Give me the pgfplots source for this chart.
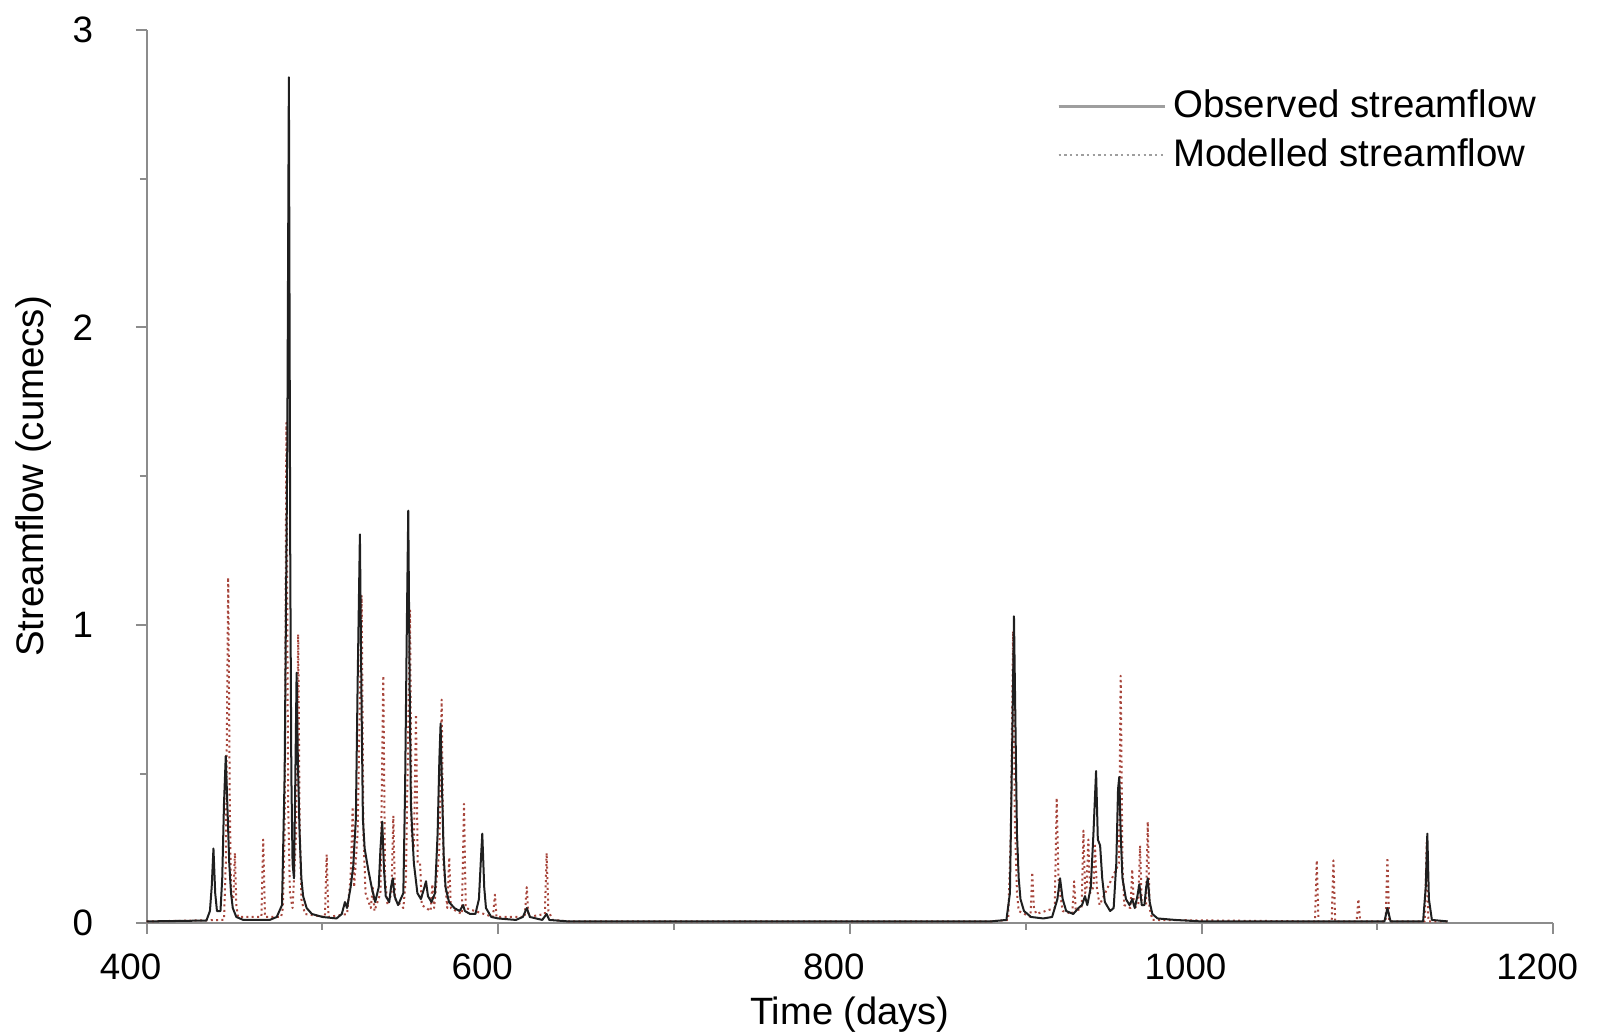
\documentclass[border=0pt]{standalone}
\usepackage{fontspec}
\setmainfont{Liberation Sans}
\usepackage{pgfplots}
\pgfplotsset{compat=1.18}
\definecolor{axgray}{gray}{0.55}
\definecolor{obs}{gray}{0.12}
\definecolor{modc}{rgb}{0.66,0.28,0.24}
\definecolor{leggray}{gray}{0.62}

\pgfplotstableread{
x y
400 0.005
434 0.008
436 0.04
437 0.12
438 0.25
439 0.10
440 0.04
442 0.04
443 0.15
444 0.40
445 0.56
446 0.38
447 0.20
448 0.10
449 0.05
451 0.02
455 0.01
470 0.01
474 0.02
477 0.06
478.5 0.5
480 1.6
480.9 2.84
481.7 1.2
482.3 0.5
483 0.2
483.8 0.15
484.5 0.45
485.3 0.84
486 0.55
487 0.3
488 0.15
489 0.09
491 0.05
494 0.03
500 0.02
508 0.015
511 0.03
512.8 0.07
514 0.05
516 0.12
517.5 0.19
519 0.35
520 0.8
521.3 1.305
522.3 0.7
523 0.35
524 0.25
526 0.18
528 0.12
530 0.07
532 0.12
533 0.25
534 0.34
535 0.18
536 0.09
538 0.07
539 0.12
540 0.15
541 0.09
543 0.06
546 0.1
547 0.45
548 1.0
548.8 1.385
549.6 0.8
550.3 0.4
551.1 0.30
552 0.2
554 0.1
556 0.08
558 0.12
558.9 0.14
560 0.09
562 0.07
564 0.1
565.5 0.3
566.5 0.55
567.2 0.67
568 0.45
569 0.22
570 0.12
572 0.07
575 0.05
578 0.04
580 0.06
581 0.04
584 0.03
587 0.03
589 0.08
590 0.2
590.9 0.30
592 0.12
593 0.05
596 0.02
600 0.015
610 0.01
614 0.02
616.2 0.05
618 0.02
625 0.01
627.5 0.03
629 0.01
640 0.005
880 0.005
889 0.01
891 0.1
892.3 0.6
893.3 1.03
894.3 0.6
895 0.3
896 0.15
897 0.08
899 0.04
903 0.02
910 0.015
915 0.02
918 0.08
919.5 0.15
921 0.08
923 0.04
927 0.03
930 0.05
932 0.06
933.7 0.09
935 0.06
937 0.12
938.5 0.3
940 0.51
941 0.28
942.3 0.26
943.5 0.15
945 0.07
948 0.04
950 0.05
951.5 0.2
952.5 0.45
953.2 0.49
954 0.3
955 0.15
957 0.08
959 0.06
960.6 0.08
962 0.05
963.5 0.09
964.6 0.13
966 0.06
967.5 0.06
968.5 0.12
969.4 0.15
970.5 0.07
972 0.03
975 0.015
985 0.01
1000 0.005
1104 0.005
1105.7 0.05
1107.5 0.005
1126 0.005
1127.5 0.12
1128.4 0.30
1129.3 0.08
1131 0.01
1140 0.005
}\obsdata

\pgfplotstableread{
x y
400 0.005
444 0.01
445 0.2
446.4 1.16
447.3 0.4
448 0.1
449.3 0.08
450.2 0.235
451 0.06
452 0.02
465.3 0.02
466.3 0.28
467.3 0.02
476.5 0.02
477.5 0.05
478.5 0.3
479.5 1.68
480.5 0.4
481.5 0.1
483 0.05
485 0.3
486.2 0.97
487 0.35
488 0.08
490 0.03
501.4 0.02
502.4 0.23
503.4 0.02
514 0.03
516 0.15
517.2 0.39
518 0.12
520 0.3
522.3 1.10
523.3 0.3
524.5 0.1
527.5 0.05
528.6 0.12
529.6 0.04
533 0.1
534.6 0.83
535.6 0.15
537 0.06
539.3 0.1
540.3 0.36
541.3 0.08
546 0.05
547.5 0.15
549.8 1.05
550.7 0.3
552 0.25
553.2 0.70
554.2 0.2
555.5 0.2
556.5 0.06
561.5 0.04
562.5 0.13
563.5 0.05
566.5 0.25
567.8 0.75
568.8 0.2
571 0.05
572.1 0.22
573 0.05
579.3 0.03
580.5 0.40
581.5 0.05
597 0.02
598.1 0.095
599 0.02
615 0.02
616.2 0.12
617.2 0.02
626.5 0.03
627.5 0.235
628.5 0.04
631 0.01
640 0.005
880 0.005
890 0.01
891.5 0.3
892.8 0.98
893.8 0.35
895 0.1
896 0.04
902.7 0.02
903.7 0.17
904.7 0.05
906 0.03
916.5 0.05
917.6 0.42
918.6 0.15
919.5 0.10
921 0.04
926.5 0.03
927.5 0.14
928.5 0.04
931.8 0.05
932.8 0.31
933.8 0.1
934.6 0.12
935.6 0.28
936.6 0.1
938.5 0.12
939.4 0.26
940.4 0.12
942 0.06
953 0.2
954 0.83
955 0.2
956 0.06
959.6 0.05
960.6 0.18
961.6 0.05
964 0.06
965 0.26
966 0.06
968.4 0.06
969.4 0.34
970.4 0.05
972 0.01
1064.5 0.005
1065.5 0.21
1066.5 0.005
1074 0.005
1075 0.21
1076 0.005
1088.2 0.005
1089.2 0.08
1090.2 0.005
1104.7 0.005
1105.7 0.22
1106.7 0.005
1127 0.005
1128 0.27
1129 0.005
1140 0.005
}\moddata

\begin{document}
\fontsize{11}{13}\selectfont
\begin{tikzpicture}
\begin{axis}[
  scale only axis,
  width=421.1pt, height=267.4pt,
  xmin=400, xmax=1200, ymin=0, ymax=3,
  axis x line*=bottom, axis y line*=left,
  axis line style={axgray, line width=0.6pt},
  xtick={400,600,800,1000,1200},
  ytick={0,1,2,3},
  minor xtick={500,700,900,1100},
  minor ytick={0.5,1.5,2.5},
  tick align=outside,
  major tick length=3.2pt, minor tick length=2pt,
  tick style={axgray, line width=0.6pt},
  every tick label/.append style={font=\fontsize{11}{13}\selectfont},
  /pgf/number format/assume math mode=true,
  /pgf/number format/1000 sep={},
  scaled ticks=false,
  xticklabel style={anchor=center, xshift=-4.8pt, yshift=-10.1pt},
  yticklabel style={anchor=east, xshift=-9pt},
  xlabel={Time (days)},
  ylabel={Streamflow (cumecs)},
  xlabel style={at={(axis description cs:0.5,-0.103)}, anchor=center, font=\fontsize{11.4}{13}\selectfont},
  ylabel style={at={(axis description cs:-0.0801,0.5)}, anchor=center, rotate=0, font=\fontsize{11.5}{13}\selectfont},
  legend style={at={(axis description cs:0.647,0.941)}, anchor=north west, draw=none, fill=none,
    font=\fontsize{11.5}{13}\selectfont, row sep=0.6pt, inner sep=0pt},
  legend cell align=left,
  legend image code/.code={\draw[#1] (0pt,0pt) -- (26pt,0pt); \path (0pt,0pt) -- (32pt,0pt);},
  clip=false,
]
\addlegendimage{leggray, line width=0.7pt}
\addlegendentry{Observed streamflow}
\addlegendimage{leggray, line width=0.7pt, densely dotted}
\addlegendentry{Modelled streamflow}
\addplot[forget plot, modc, densely dotted, line width=0.6pt, line join=round] table[x=x,y=y] {\moddata};
\addplot[forget plot, obs, line width=0.6pt, line join=round] table[x=x,y=y] {\obsdata};
\end{axis}
\pgfresetboundingbox
\path (-43.9pt,-33.8pt) rectangle (435.7pt,276.3pt);
\end{tikzpicture}
\end{document}
